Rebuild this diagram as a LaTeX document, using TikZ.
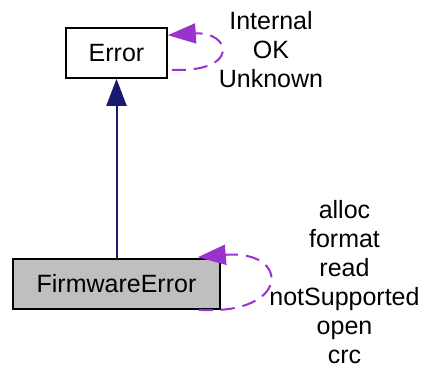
\documentclass[tikz,border=0pt]{standalone}
\usepackage{fontspec}
\setmainfont{Liberation Sans}
\usetikzlibrary{arrows.meta, positioning, calc}

\definecolor{edgeblue}{HTML}{191970}
\definecolor{edgepurple}{HTML}{9A32CD}
\definecolor{boxgray}{HTML}{BFBFBF}

\begin{document}
\begin{tikzpicture}[
    x=1pt, y=-1pt,
    classbox/.style={draw=black, line width=1.6pt, inner sep=0pt,
        minimum height=50pt, font=\fontsize{25}{29}\selectfont},
    inheritarrow/.style={-{Triangle[length=27pt, width=20pt]}, line width=2pt, edgeblue},
    usearrow/.style={-{Triangle[length=28pt, width=20pt]}, line width=2pt, edgepurple,
        dash pattern=on 14pt off 8pt},
    memberlabel/.style={font=\fontsize{25}{29}\selectfont, align=center},
]
\useasboundingbox (0,0) rectangle (427,368);

% ===================== CLASSES =====================
\node[classbox, minimum width=101pt] (err) at (116.5, 53) {Error};
\node[classbox, fill=boxgray, minimum width=207pt] (fwerr) at (116.5, 284) {FirmwareError};

% ===================== INHERITANCE =====================
\draw[inheritarrow] (fwerr.north) -- (err.south);

% ===================== SELF USAGE =====================
\draw[usearrow]
    ($(err.south east)+(4,-9)$) .. controls ($(err.south east)+(73,-6)$)
    and ($(err.north east)+(63,4)$) .. ($(err.north east)+(0,8)$);
\node[memberlabel] (errlbl) at (271, 50) {Internal\\OK\\Unknown};

\draw[usearrow]
    ($(fwerr.south east)+(-22,0)$) .. controls ($(fwerr.south east)+(70,6)$)
    and ($(fwerr.north east)+(70,-9)$) .. ($(fwerr.north east)+(-23,-1)$);
\node[memberlabel] (fwlbl) at (344.5, 282) {alloc\\format\\read\\notSupported\\open\\crc};

\end{tikzpicture}
\end{document}
